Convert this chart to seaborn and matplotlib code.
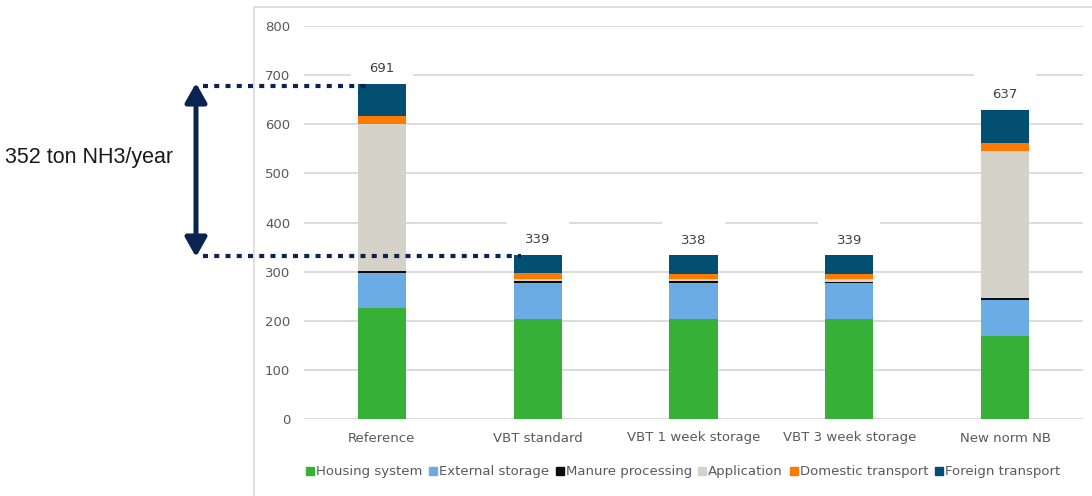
import numpy as np
import pandas as pd
import matplotlib
matplotlib.use("Agg")
import matplotlib.pyplot as plt
import seaborn as sns
from matplotlib.lines import Line2D
from matplotlib.patches import Rectangle

# ============================================================
# DATA (ton NH3/year)
# ============================================================
scenarios = ["Reference", "VBT standard", "VBT 1 week storage",
             "VBT 3 week storage", "New norm NB"]
housing_system     = [225, 203, 203, 203, 169]
external_storage   = [73, 73, 73, 73, 74]
manure_processing  = [4, 5, 5, 3, 4]
application        = [299, 4, 3, 5, 299]
domestic_transport = [15, 12, 12, 11, 16]
foreign_transport  = [66, 37, 37, 38, 68]
total_labels = [691, 339, 338, 339, 637]

gap_label = "352 ton NH3/year"

segments = {
    "Housing system": housing_system,
    "External storage": external_storage,
    "Manure processing": manure_processing,
    "Application": application,
    "Domestic transport": domestic_transport,
    "Foreign transport": foreign_transport,
}
colors = ["#36B037", "#6AACE3", "#0D0D0D", "#D5D2CA", "#FF7A00", "#024F71"]

# ============================================================
# FIGURE
# ============================================================
sns.set_theme(style="white")
plt.rcParams["font.family"] = ["DejaVu Sans"]

W, H = 1092, 496
fig = plt.figure(figsize=(W / 100, H / 100), dpi=100)
ax = fig.add_axes([304 / W, (H - 419) / H, 779 / W, 393 / H])

bottom = np.zeros(len(scenarios))
for (name, vals), col in zip(segments.items(), colors):
    sns.barplot(x=scenarios, y=vals, bottom=bottom, color=col, width=0.31,
                saturation=1, errorbar=None, linewidth=0, ax=ax, zorder=3)
    bottom = bottom + np.array(vals)

# total labels with white boxes cutting the gridlines
for i, (tot, lab) in enumerate(zip(bottom, total_labels)):
    ax.annotate(str(lab), xy=(i, tot), xytext=(0, 15), textcoords="offset pixels",
                ha="center", va="center", fontsize=9.5, color="#404040",
                bbox=dict(boxstyle="square,pad=1.4", fc="white", ec="none"),
                zorder=2.5)

ax.set_ylim(0, 800)
ax.set_xlim(-0.5, 4.5)
ax.set_yticks(range(0, 801, 100))
ax.yaxis.grid(True, color="#D9D9D9", linewidth=1.3, zorder=0)
ax.set_axisbelow(True)
for s in ax.spines.values():
    s.set_visible(False)
ax.tick_params(axis="both", length=0, labelsize=9.5, labelcolor="#595959")
ax.tick_params(axis="y", pad=10)
ax.tick_params(axis="x", pad=9)
ax.set_xlabel("")
ax.set_ylabel("")

# legend
handles = [Line2D([], [], marker="s", linestyle="none", markersize=5.5,
                  markerfacecolor=c, markeredgecolor=c) for c in colors]
fig.legend(handles, list(segments.keys()), loc="center", ncol=6,
           bbox_to_anchor=(683 / W, 24 / H), frameon=False, fontsize=9.5,
           labelcolor="#595959", handlelength=0.6, handletextpad=0.15,
           columnspacing=0.5)

# chart frame
fig.add_artist(Rectangle((254 / W, -0.05), 1.0, 1.05 - 7 / H, transform=fig.transFigure,
                         fill=False, edgecolor="#D9D9D9", linewidth=1.2))

# ============================================================
# GAP ANNOTATION
# ============================================================
navy = "#0B2350"
ax.annotate("", xy=(196, H - 83), xytext=(196, H - 257), xycoords="figure pixels",
            textcoords="figure pixels", annotation_clip=False,
            arrowprops=dict(arrowstyle="<|-|>,head_length=1.15,head_width=0.65",
                            lw=3.6, color=navy, mutation_scale=10,
                            shrinkA=0, shrinkB=0))
for x0, x1, yp in [(203, 366, 86), (203, 521, 256)]:
    fig.add_artist(Line2D([x0 / W, x1 / W], [(H - yp) / H, (H - yp) / H],
                          transform=fig.transFigure, color=navy, linewidth=3.0,
                          linestyle=(0, (1.2, 1.5)), dash_capstyle="butt", zorder=5))
fig.text(89 / W, (H - 158) / H, gap_label, ha="center", va="center",
         fontsize=15.5, color="#1A1A1A", family=["Liberation Sans", "DejaVu Sans"])

fig.savefig("out.png", dpi=100)
